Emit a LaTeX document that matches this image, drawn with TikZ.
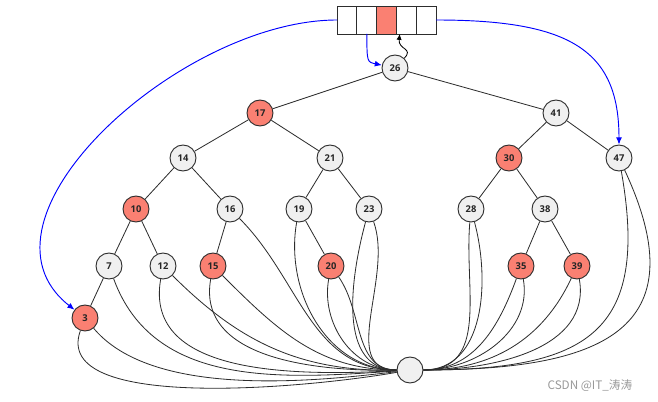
\documentclass[tikz,border=0pt]{standalone}
\usepackage{fontspec}
\setsansfont{Open Sans}
\newfontfamily\cjk{Noto Sans CJK SC}
\usetikzlibrary{positioning,arrows.meta}
\definecolor{nodered}{RGB}{250,128,114}
\definecolor{nodegray}{RGB}{240,240,240}
\definecolor{linegray}{RGB}{45,45,45}

\begin{document}
\begin{tikzpicture}[x=0.03cm,y=-0.03cm,>={Latex[length=5pt,width=4.5pt]},line width=0.7pt,
  main node/.style={circle,draw=linegray,line width=0.8pt,minimum size=0.78cm,inner sep=0pt,font=\sffamily\bfseries\fontsize{8}{9}\selectfont,text=black!85},
  black node/.style={main node,fill=nodegray},
  red node/.style={main node,fill=nodered},
  cell/.style={rectangle,draw=linegray,line width=0.8pt,minimum width=0.594cm,minimum height=0.84cm,inner sep=0pt,outer sep=0pt,fill=white},
  tree edge/.style={draw=linegray},
  nil edge/.style={draw=linegray},
  blue arrow/.style={->,draw=blue,line width=0.8pt,>={Latex[length=6pt,width=5pt]}}]

  \useasboundingbox (0,0) rectangle (658,402);

  % slot array
  \node[cell] (c1) at (347,20) {};
  \node[cell] (c2) [right=0pt of c1] {};
  \node[cell,fill=nodered] (c3) [right=0pt of c2] {};
  \node[cell] (c4) [right=0pt of c3] {};
  \node[cell] (c5) [right=0pt of c4] {};

  % tree
  \node[black node] (n26) at (395,68) {26};
  \node[red node]   (n17) at (260,113) {17};
  \node[black node] (n41) at (556,113) {41};
  \node[black node] (n14) at (183,158) {14};
  \node[black node] (n21) at (330,158) {21};
  \node[red node]   (n30) at (509,158) {30};
  \node[black node] (n47) at (619,158) {47};
  \node[red node]   (n10) at (136,209) {10};
  \node[black node] (n16) at (230,209) {16};
  \node[black node] (n19) at (299,209) {19};
  \node[black node] (n23) at (369,209) {23};
  \node[black node] (n28) at (471,209) {28};
  \node[black node] (n38) at (545,209) {38};
  \node[black node] (n7)  at (109,266) {7};
  \node[black node] (n12) at (163,266) {12};
  \node[red node]   (n15) at (213,266) {15};
  \node[red node]   (n20) at (331,266) {20};
  \node[red node]   (n35) at (521,266) {35};
  \node[red node]   (n39) at (577,266) {39};
  \node[red node]   (n3)  at (85,318) {3};

  % sentinel
  \node[black node] (nil) at (410,370) {};

  \path[tree edge]
    (n26) edge (n17)
    (n26) edge (n41)
    (n17) edge (n14)
    (n17) edge (n21)
    (n14) edge (n10)
    (n14) edge (n16)
    (n21) edge (n19)
    (n21) edge (n23)
    (n10) edge (n7)
    (n10) edge (n12)
    (n16) edge (n15)
    (n19) edge (n20)
    (n7)  edge (n3)
    (n41) edge (n30)
    (n41) edge (n47)
    (n30) edge (n28)
    (n30) edge (n38)
    (n38) edge (n35)
    (n38) edge (n39);

  \path[nil edge]
    (n3)  edge[out=-110,in=190,looseness=0.7] (nil)
    (n3)  edge[out=-50,in=187,looseness=0.75] (nil)
    (n7)  edge[out=-70,in=184] (nil)
    (n12) edge[out=-100,in=183] (nil)
    (n12) edge[out=-45,in=181] (nil)
    (n15) edge[out=-100,in=181] (nil)
    (n15) edge[out=-45,in=180] (nil)
    (n16) edge[out=-45,in=180] (nil)
    (n19) edge[out=-100,in=180] (nil)
    (n20) edge[out=-100,in=180] (nil)
    (n20) edge[out=-55,in=180] (nil)
    (n23) edge[out=-105,in=180] (nil)
    (n23) edge[out=-70,in=180] (nil)

    (n28) edge[out=-95,in=0,looseness=1.1] (nil)
    (n28) edge[out=-75,in=0] (nil)
    (n35) edge[out=-110,in=0] (nil)
    (n35) edge[out=-80,in=0] (nil)
    (n39) edge[out=-115,in=0] (nil)
    (n39) edge[out=-80,in=0] (nil)
    (n47) edge[out=-80,in=0,looseness=1.5] (nil)
    (n47) edge[out=-65,in=0,looseness=1.6] (nil);

  % pointers from the array
  \draw[blue arrow] (c1.west) .. controls (180,20) and (-40,220) .. (n3);
  \draw[blue arrow] (c5.east) .. controls (570,20) and (619,50) .. (n47);
  \draw[blue arrow] (c2.south) .. controls (367,62) .. (n26);
  \draw[->,draw=black] (n26) .. controls (414,48) and (398,50) .. ([xshift=-0.2cm]c4.south);

  \node[font=\cjk\fontsize{10}{12}\selectfont,text=black!40] (mark) at (590,386) {CSDN @IT\_涛涛};
\end{tikzpicture}
\end{document}
